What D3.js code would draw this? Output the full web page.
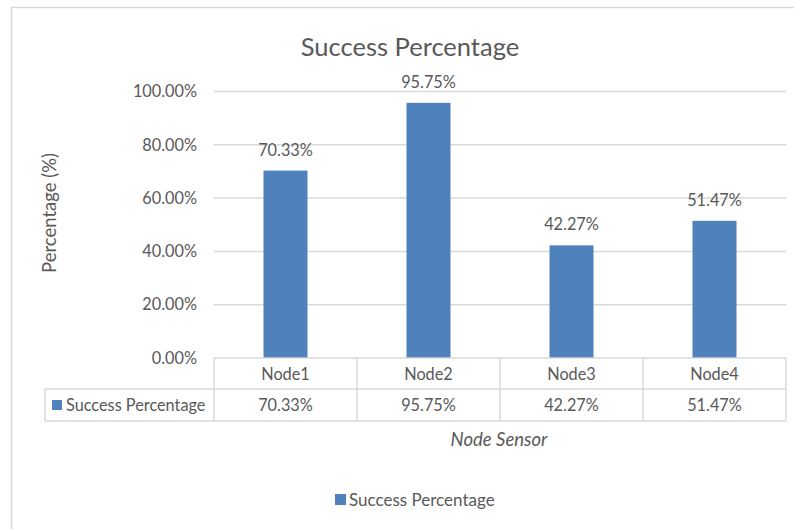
<!DOCTYPE html>
<html><head><meta charset="utf-8">
<script src="https://cdn.jsdelivr.net/npm/d3@7"></script>
<style>body{margin:0;background:#fff}svg{display:block}text{font-family:Lato,"Open Sans",sans-serif;fill:#595959}</style>
</head><body><svg id="c" width="794" height="529"></svg>
<script>
const categories = ["Node1","Node2","Node3","Node4"];
const values = [70.33, 95.75, 42.27, 51.47];
const yTicks = [0,20,40,60,80,100];
const seriesName = "Success Percentage";
const title = "Success Percentage";
const xTitle = "Node Sensor";
const yTitle = "Percentage (%)";

const svg = d3.select("#c");
const grid = "#D9D9D9", barColor = "#4F81BD";
const fs = "16.3px";
// outer frame
svg.append("rect").attr("x",11.5).attr("y",7.5).attr("width",800).attr("height",540)
  .attr("fill","none").attr("stroke",grid).attr("stroke-width",1.5);

const L=214, R=786, T=91.5, B=358;
const x = d3.scaleBand().domain(categories).range([L,R]).paddingInner(0).paddingOuter(0);
const y = d3.scaleLinear().domain([0,100]).range([B,T]);
const fmt = v => v.toFixed(2)+"%";

// gridlines
svg.append("g").selectAll("line").data(yTicks.filter(d=>d>0)).join("line")
  .attr("x1",L).attr("x2",R).attr("y1",d=>y(d)).attr("y2",d=>y(d))
  .attr("stroke",grid).attr("stroke-width",1.5);

// y axis labels
const yAxis = d3.axisLeft(y).tickValues(yTicks).tickSize(0).tickPadding(0).tickFormat(fmt);
const ya = svg.append("g").attr("transform",`translate(${197},0)`).call(yAxis);
ya.select(".domain").remove();
ya.selectAll("text").style("font-size",fs).attr("fill","#595959").style("font-family","Lato,sans-serif");

// bars
const bw = 44;
svg.append("g").selectAll("rect").data(values).join("rect")
  .attr("x",(d,i)=>x(categories[i])+x.bandwidth()/2-bw/2)
  .attr("width",bw)
  .attr("y",d=>y(d)).attr("height",d=>B-y(d)).attr("fill",barColor);

// data labels
svg.append("g").selectAll("text").data(values).join("text")
  .attr("x",(d,i)=>x(categories[i])+x.bandwidth()/2)
  .attr("y",d=>y(d)-15).attr("text-anchor","middle")
  .style("font-size",fs).text(fmt);

// data table
const r1=B, r2=389, r3=421, tl=45;
const tg = svg.append("g").attr("stroke",grid).attr("stroke-width",1.5);
tg.append("line").attr("x1",L).attr("x2",R).attr("y1",r1).attr("y2",r1);
tg.append("line").attr("x1",tl).attr("x2",R).attr("y1",r2).attr("y2",r2);
tg.append("line").attr("x1",tl).attr("x2",R).attr("y1",r3).attr("y2",r3);
tg.append("line").attr("x1",tl).attr("x2",tl).attr("y1",r2).attr("y2",r3);
tg.selectAll(".v").data(categories.concat(["end"])).join("line")
  .attr("x1",(d,i)=> i<categories.length ? x(d) : R)
  .attr("x2",(d,i)=> i<categories.length ? x(d) : R)
  .attr("y1",r1).attr("y2",r3);

svg.append("g").selectAll("text").data(categories).join("text")
  .attr("x",d=>x(d)+x.bandwidth()/2).attr("y",(r1+r2)/2+6).attr("text-anchor","middle")
  .style("font-size",fs).text(d=>d);
svg.append("g").selectAll("text").data(values).join("text")
  .attr("x",(d,i)=>x(categories[i])+x.bandwidth()/2).attr("y",(r2+r3)/2+6).attr("text-anchor","middle")
  .style("font-size",fs).text(fmt);
svg.append("rect").attr("x",52).attr("y",400).attr("width",10).attr("height",10).attr("fill",barColor);
svg.append("text").attr("x",66).attr("y",(r2+r3)/2+6).style("font-size","16.3px").text(seriesName);

// titles
svg.append("text").attr("x",410).attr("y",56).attr("text-anchor","middle").style("font-size","25.5px").text(title);
svg.append("text").attr("x",499).attr("y",446).attr("text-anchor","middle").style("font-size","18.5px").style("font-style","italic").text(xTitle);
svg.append("text").attr("transform","translate(56,213) rotate(-90)").attr("text-anchor","middle").style("font-size","18.5px").text(yTitle);

// legend
svg.append("rect").attr("x",335).attr("y",494).attr("width",11).attr("height",11).attr("fill",barColor);
svg.append("text").attr("x",349).attr("y",506).style("font-size","17px").text(seriesName);
</script></body></html>
